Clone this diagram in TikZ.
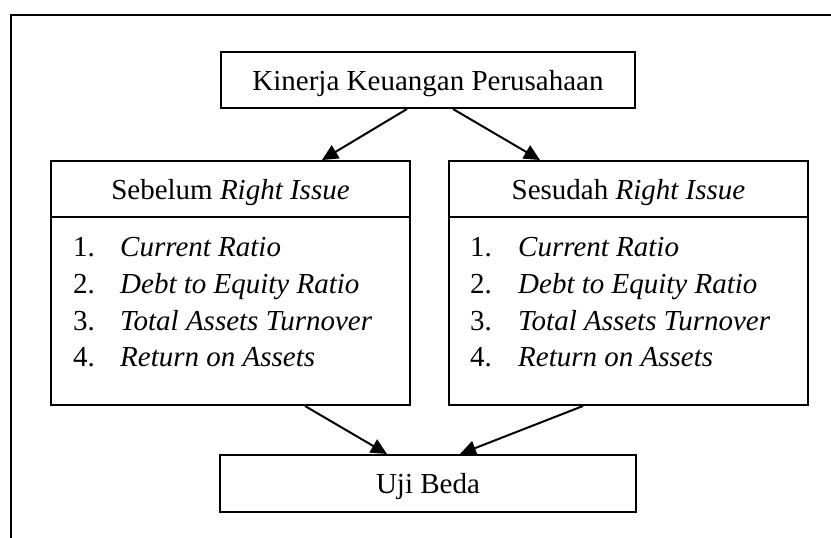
\documentclass[tikz,border=0pt]{standalone}
\usepackage{fontspec}
\setmainfont{Liberation Serif}
\usetikzlibrary{arrows.meta}
\begin{document}
\begin{tikzpicture}[x=1pt,y=-1pt,
  box/.style={draw,line width=2pt,inner sep=0pt,font=\fontsize{29}{35}\selectfont,text height=20pt,text depth=0pt},
  body/.style={draw,line width=2pt,inner sep=0pt},
  item/.style={anchor=base west,inner sep=0pt,font=\fontsize{29}{35}\selectfont},
  arr/.style={line width=2pt,-{Triangle[length=16pt,width=15pt]}}]
\useasboundingbox (0,0) rectangle (831,538);
\coordinate (ftop) at (831,15);
\coordinate (fcorner) at (11,15);
\coordinate (fbot) at (11,538);
\draw[line width=2.2pt] (ftop) -- (fcorner) -- (fbot);
\node[box,minimum width=414pt,minimum height=56pt] (top) at (428,80) {Kinerja Keuangan Perusahaan};
\node[box,minimum width=359pt,minimum height=56pt] (lhead) at (230.5,189) {Sebelum \textit{Right Issue}};
\node[box,minimum width=359pt,minimum height=56pt] (rhead) at (628.5,189) {Sesudah \textit{Right Issue}};
\node[body,minimum width=359pt,minimum height=188pt] (lbody) at (230.5,311) {};
\node[body,minimum width=359pt,minimum height=188pt] (rbody) at (628.5,311) {};
\node[box,minimum width=416pt,minimum height=57pt] (bot) at (428,483.5) {Uji Beda};
% left list
\node[item] (ln1) at (73,256) {1.};
\node[item] (lt1) at (120,256) {\textit{Current Ratio}};
\node[item] (ln2) at (73,293) {2.};
\node[item] (lt2) at (120,293) {\textit{Debt to Equity Ratio}};
\node[item] (ln3) at (73,330) {3.};
\node[item] (lt3) at (120,330) {\textit{Total Assets Turnover}};
\node[item] (ln4) at (73,366) {4.};
\node[item] (lt4) at (120,366) {\textit{Return on Assets}};
% right list
\node[item] (rn1) at (470,256) {1.};
\node[item] (rt1) at (518,256) {\textit{Current Ratio}};
\node[item] (rn2) at (470,293) {2.};
\node[item] (rt2) at (518,293) {\textit{Debt to Equity Ratio}};
\node[item] (rn3) at (470,330) {3.};
\node[item] (rt3) at (518,330) {\textit{Total Assets Turnover}};
\node[item] (rn4) at (470,366) {4.};
\node[item] (rt4) at (518,366) {\textit{Return on Assets}};
% arrows
\draw[arr] ([xshift=-21pt]top.south) -- ([xshift=91.5pt]lhead.north);
\draw[arr] ([xshift=25pt]top.south) -- ([xshift=-88.5pt]rhead.north);
\draw[arr] ([xshift=74.5pt]lbody.south) -- ([xshift=-41pt]bot.north);
\draw[arr] ([xshift=-45.5pt]rbody.south) -- ([xshift=32pt]bot.north);
\end{tikzpicture}
\end{document}
